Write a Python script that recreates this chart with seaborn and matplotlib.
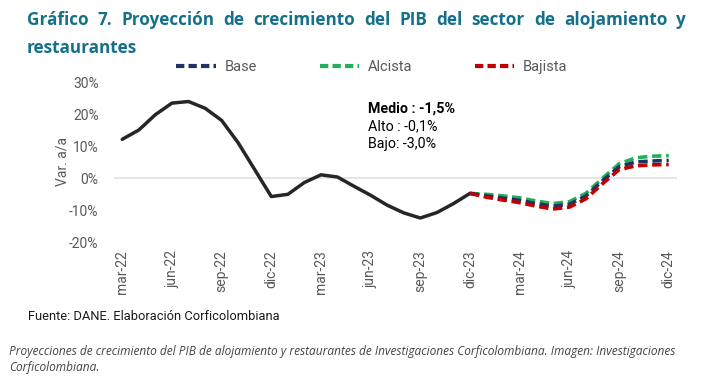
import numpy as np
import pandas as pd
import matplotlib.pyplot as plt
import seaborn as sns
from matplotlib.lines import Line2D

# Monthly index: 0 = mar-22 ... 33 = dic-24
quarter_labels = ["mar-22", "jun-22", "sep-22", "dic-22", "mar-23", "jun-23",
                  "sep-23", "dic-23", "mar-24", "jun-24", "sep-24", "dic-24"]

hist_months = list(range(0, 22))
hist_values = [12.1, 15.0, 19.8, 23.4, 23.9, 21.8, 18.0, 11.0, 2.6, -5.8, -5.1,
               -1.4, 1.0, 0.3, -2.6, -5.4, -8.5, -10.9, -12.5, -10.8, -8.0, -4.8]

fc_months = list(range(21, 34))
base_values = [-4.8, -5.6, -6.3, -7.0, -8.0, -8.8, -8.2, -5.6, -0.9, 3.5, 5.0, 5.3, 5.5]
alcista_values = [-4.8, -5.1, -5.6, -6.2, -7.2, -8.0, -7.4, -4.8, -0.1, 4.4, 6.3, 6.8, 7.0]
bajista_values = [-4.8, -6.0, -6.9, -7.7, -8.8, -9.7, -9.1, -6.5, -1.8, 2.6, 3.8, 4.1, 4.2]

colors = {"Alcista": "#22b05a", "Base": "#1f3264", "Bajista": "#c00000"}

sns.set_theme(style="white")
plt.rcParams["font.family"] = ["Roboto", "DejaVu Sans"]

fig = plt.figure(figsize=(7.05, 3.81), dpi=100)
ax = fig.add_axes([114 / 705, 1 - 242 / 381, (677 - 114) / 705, (242 - 82) / 381])

hist_df = pd.DataFrame({"mes": hist_months, "valor": hist_values})
fc_df = pd.concat([
    pd.DataFrame({"mes": fc_months, "valor": alcista_values, "Escenario": "Alcista"}),
    pd.DataFrame({"mes": fc_months, "valor": base_values, "Escenario": "Base"}),
    pd.DataFrame({"mes": fc_months, "valor": bajista_values, "Escenario": "Bajista"}),
])

ax.axhline(0, color="#e3e3e3", lw=1.3, zorder=0)
sns.lineplot(data=hist_df, x="mes", y="valor", ax=ax, color="#262626", lw=2.5,
             solid_joinstyle="round", solid_capstyle="round")
for name in ["Alcista", "Base", "Bajista"]:
    sub = fc_df[fc_df["Escenario"] == name]
    sns.lineplot(data=sub, x="mes", y="valor", ax=ax, color=colors[name], lw=2.6,
                 linestyle=(0, (2.6, 1.3)))

ax.set_xlim(-0.5, 33.5)
ax.set_ylim(-20, 30)
ax.set_xticks(range(0, 34, 3))
ax.set_xticklabels(quarter_labels, rotation=90, fontsize=10, color="#595959")
ax.set_yticks(range(-20, 31, 10))
ax.set_yticklabels([f"{v}%" for v in range(-20, 31, 10)], fontsize=10, color="#595959")
ax.tick_params(axis="y", length=0, pad=11)
ax.tick_params(axis="x", length=0, pad=6)
ax.set_xlabel("")
ax.set_ylabel("Var. a/a", fontsize=10, color="#595959", labelpad=0)
sns.despine(ax=ax, left=True, bottom=True)

ax.text(0.452, 0.837, "Medio : -1,5%", transform=ax.transAxes, fontsize=10.3,
        fontweight="bold", color="black", va="center")
ax.text(0.452, 0.725, "Alto : -0,1%", transform=ax.transAxes, fontsize=10.3,
        color="black", va="center")
ax.text(0.452, 0.613, "Bajo: -3,0%", transform=ax.transAxes, fontsize=10.3,
        color="black", va="center")

handles = [Line2D([], [], color=colors[n], lw=3, linestyle=(0, (2.0, 1.0)))
           for n in ["Base", "Alcista", "Bajista"]]
fig.legend(handles, ["Base", "Alcista", "Bajista"], loc="center",
           bbox_to_anchor=(372 / 705, 1 - 67 / 381), ncol=3, frameon=False,
           fontsize=10.5, handlelength=2.7, columnspacing=4.3, handletextpad=0.6,
           labelcolor="#595959")

# justified title, first line
title_color = "#17708a"
title_words = "Gráfico 7. Proyección de crecimiento del PIB del sector de alojamiento y".split()
renderer = fig.canvas.get_renderer()
x0, x1 = 27 / 705, 686 / 705
word_texts = [fig.text(0, 1 - 20 / 381, w, fontsize=12.3, fontweight="bold",
                       color=title_color, va="center", family="Open Sans")
              for w in title_words]
widths = [t.get_window_extent(renderer).width / fig.bbox.width for t in word_texts]
gap = (x1 - x0 - sum(widths)) / (len(title_words) - 1)
pos = x0
for t, w in zip(word_texts, widths):
    t.set_x(pos)
    pos += w + gap
fig.text(x0, 1 - 48 / 381, "restaurantes", fontsize=12.3, fontweight="bold",
         color=title_color, va="center", family="Open Sans")

fig.text(28 / 705, 1 - 317 / 381, "Fuente: DANE. Elaboración Corficolombiana",
         fontsize=9.3, color="#1a1a1a", va="center")
fig.text(9 / 705, 1 - 352 / 381,
         "Proyecciones de crecimiento del PIB de alojamiento y restaurantes de Investigaciones Corficolombiana. Imagen: Investigaciones",
         fontsize=8.6, style="italic", color="#444444", va="center", family="Open Sans")
fig.text(9 / 705, 1 - 368 / 381, "Corficolombiana.", fontsize=8.6, style="italic",
         color="#444444", va="center", family="Open Sans")

fig.savefig("out.png", dpi=100, facecolor="white")
